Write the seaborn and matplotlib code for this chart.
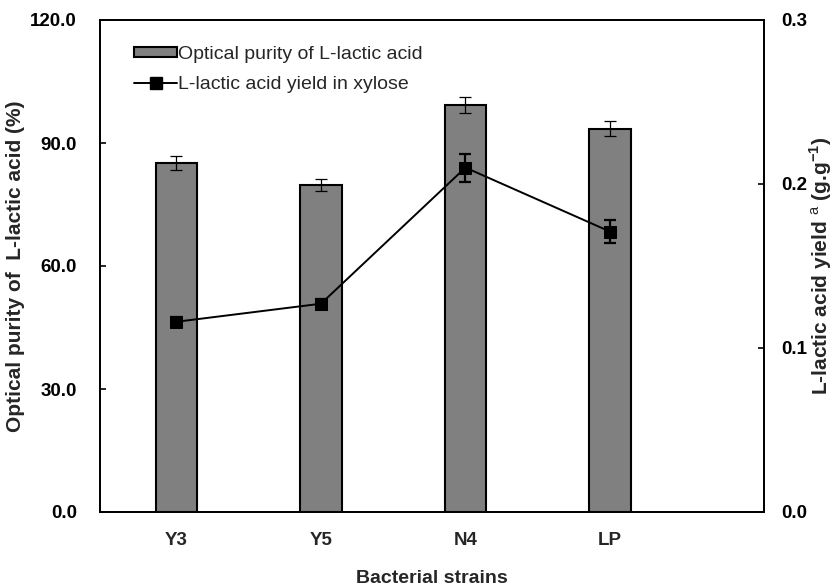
import numpy as np
import pandas as pd
import matplotlib
matplotlib.use("Agg")
import matplotlib.pyplot as plt
from matplotlib.patches import Patch
from matplotlib.lines import Line2D
import seaborn as sns

# ---- data ----
strains = ["Y3", "Y5", "N4", "LP"]
purity = [85.2, 79.8, 99.2, 93.5]
purity_err = [1.7, 1.5, 2.0, 1.9]
yield_xylose = [0.116, 0.127, 0.210, 0.171]
yield_err = [0.003, 0.003, 0.0085, 0.007]
left_ticks = [0.0, 30.0, 60.0, 90.0, 120.0]
right_ticks = [0.0, 0.1, 0.2, 0.3]

sns.set_theme(style="white")
plt.rcParams["font.family"] = ["Liberation Sans", "DejaVu Sans"]
plt.rcParams["mathtext.fontset"] = "custom"
plt.rcParams["mathtext.rm"] = "Liberation Sans"
plt.rcParams["mathtext.bf"] = "Liberation Sans:bold"

fig = plt.figure(figsize=(8.38, 5.88), dpi=100)
ax = fig.add_axes([100/838, 1-512/588, 664/838, 492/588])

df = pd.DataFrame({"strain": strains, "purity": purity})
sns.barplot(data=df, x="strain", y="purity", color="#808080", saturation=1,
            edgecolor="black", linewidth=1.5, width=0.286, ax=ax, zorder=2)
pos = np.arange(len(strains))
ax.errorbar(pos, purity, yerr=purity_err, fmt="none", ecolor="black",
            elinewidth=0.9, capsize=4, capthick=0.9, zorder=3)

ax.set_ylim(0, 120)
ax.set_xlim(-0.529, 4.066)
ax.set_yticks(left_ticks)
ax.set_yticklabels([f"{v:.1f}" for v in left_ticks], fontsize=13.5, fontweight="bold")
ax.set_xticks(pos)
ax.set_xticklabels(strains, fontsize=13.5, fontweight="bold")
ax.tick_params(axis="x", length=0, pad=14.5)
ax.tick_params(axis="y", direction="in", length=4.3, width=1.2, pad=16.5, colors="black")
ax.set_xlabel("Bacterial strains", fontsize=14, fontweight="bold", labelpad=15)
ax.set_ylabel("Optical purity of  L-lactic acid (%)", fontsize=15, fontweight="bold", labelpad=4)
for s in ax.spines.values():
    s.set_color("black")
    s.set_linewidth(1.3)

ax2 = ax.twinx()
sns.lineplot(x=pos, y=yield_xylose, marker="s", color="black", markersize=9,
             markeredgecolor="black", linewidth=1.4, ax=ax2, legend=False)
ax2.errorbar(pos, yield_xylose, yerr=yield_err, fmt="none", ecolor="black",
             elinewidth=1.6, capsize=4, capthick=1.6, zorder=3)
ax2.set_ylim(0, 0.3)
ax2.set_yticks(right_ticks)
ax2.set_yticklabels([f"{v:.1f}" for v in right_ticks], fontsize=13.5, fontweight="bold")
ax2.tick_params(axis="y", direction="in", length=4.3, width=1.2, pad=12.7, colors="black")
ax2.set_ylabel(r"L-lactic acid yield $^{\mathrm{a}}$ (g.g$^{\mathbf{-1}}$)", fontsize=15,
               fontweight="bold", rotation=90, labelpad=0)
for s in ax2.spines.values():
    s.set_color("black")
    s.set_linewidth(1.3)

handles = [Patch(facecolor="#808080", edgecolor="black", linewidth=1.5),
           Line2D([], [], color="black", marker="s", markersize=9, linewidth=1.4)]
labels = ["Optical purity of L-lactic acid", "L-lactic acid yield in xylose"]
ax2.legend(handles, labels, loc="upper left", bbox_to_anchor=(0.04, 0.963),
           frameon=False, fontsize=14, handlelength=2.2, handleheight=0.45,
           handletextpad=0.05, labelspacing=0.66, borderaxespad=0)

fig.savefig("out.png", dpi=100)
